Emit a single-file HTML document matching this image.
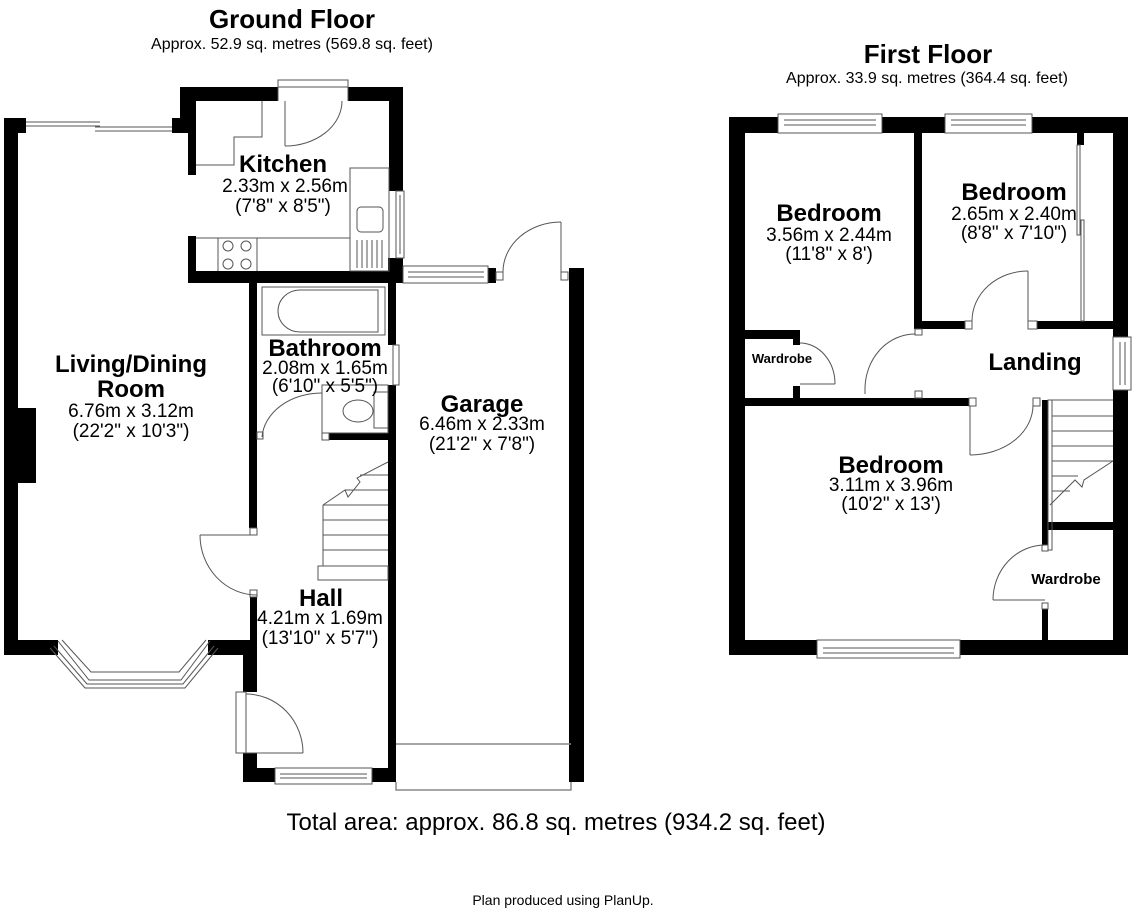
<!DOCTYPE html>
<html><head><meta charset="utf-8"><style>
html,body{margin:0;padding:0;background:#fff;width:1136px;height:914px;overflow:hidden}
svg{display:block}
text{font-family:"Liberation Sans",Arial,sans-serif;fill:#000}
.t{font-weight:bold;font-size:24px}
.d{font-size:19px}
</style></head><body>
<svg width="1136" height="914" viewBox="0 0 1136 914" xmlns="http://www.w3.org/2000/svg">
<g fill="#000">
<rect x="4" y="118" width="14" height="537"/>
<rect x="18" y="408" width="18" height="75"/>
<rect x="4" y="118" width="22" height="15"/>
<rect x="172" y="118" width="22" height="15"/>
<rect x="180" y="87" width="98" height="14"/>
<rect x="180" y="87" width="8" height="45"/>
<rect x="188" y="87" width="8" height="88"/>
<rect x="188" y="236" width="8" height="47"/>
<rect x="348" y="87" width="55" height="14"/>
<rect x="389" y="87" width="14" height="104"/>
<rect x="388" y="258" width="15" height="25"/>
<rect x="188" y="271" width="215" height="12"/>
<rect x="249" y="277" width="8" height="251"/>
<rect x="250" y="597" width="7" height="43"/>
<rect x="4" y="640" width="54" height="15"/>
<rect x="208" y="640" width="49" height="15"/>
<rect x="243" y="640" width="14" height="52"/>
<rect x="243" y="753" width="14" height="29"/>
<rect x="243" y="768" width="32" height="14"/>
<rect x="372" y="768" width="24" height="14"/>
<rect x="388" y="283" width="8" height="62"/>
<rect x="388" y="385" width="8" height="397"/>
<rect x="329" y="433" width="62" height="7"/>
<rect x="488" y="268" width="8" height="15"/>
<rect x="569" y="268" width="15" height="514"/>
<rect x="729" y="117" width="16" height="538"/>
<rect x="729" y="117" width="49" height="16"/>
<rect x="882" y="117" width="63" height="16"/>
<rect x="1032" y="117" width="96" height="16"/>
<rect x="1077" y="133" width="7" height="12"/>
<rect x="1113" y="117" width="15" height="220"/>
<rect x="1113" y="390" width="15" height="265"/>
<rect x="914" y="133" width="8" height="196"/>
<rect x="914" y="321" width="51" height="8"/>
<rect x="1037" y="321" width="91" height="8"/>
<rect x="745" y="330" width="55" height="9"/>
<rect x="793" y="339" width="7" height="6"/>
<rect x="793" y="386" width="7" height="13"/>
<rect x="745" y="398" width="224" height="8"/>
<rect x="1042" y="400" width="6" height="145"/>
<rect x="1048" y="522" width="66" height="8"/>
<rect x="1042" y="609" width="6" height="46"/>
<rect x="729" y="640" width="88" height="15"/>
<rect x="960" y="640" width="168" height="15"/>
</g>
<g fill="none" stroke="#555" stroke-width="1">
<line x1="26" y1="122" x2="100" y2="122"/><line x1="26" y1="126" x2="100" y2="126"/>
<line x1="95" y1="127" x2="172" y2="127"/><line x1="95" y1="131" x2="172" y2="131"/>
<rect x="278" y="80" width="70" height="7"/>
<line x1="278" y1="101" x2="278" y2="87"/><line x1="348" y1="101" x2="348" y2="87"/>
<line x1="285" y1="101" x2="285" y2="146"/>
<path d="M285 146 A57 45 0 0 0 342 101"/>
<polyline points="196,165 234,165 234,137 262,137 262,101"/>
<line x1="196" y1="238" x2="350" y2="238"/>
<rect x="350" y="168" width="39" height="103"/>
<rect x="357" y="207" width="26" height="25" rx="4"/>
<line x1="218" y1="238" x2="218" y2="271"/><line x1="257" y1="238" x2="257" y2="271"/>
<circle cx="228" cy="246" r="5"/><circle cx="246" cy="246" r="5"/>
<circle cx="228" cy="264" r="5"/><circle cx="246" cy="264" r="5"/>
<line x1="357" y1="240" x2="357" y2="268"/><line x1="362" y1="240" x2="362" y2="268"/><line x1="367" y1="240" x2="367" y2="268"/><line x1="372" y1="240" x2="372" y2="268"/><line x1="377" y1="240" x2="377" y2="268"/><line x1="382" y1="240" x2="382" y2="268"/>
<rect x="396" y="191" width="8" height="67"/><line x1="400" y1="195" x2="400" y2="254"/>
<rect x="403" y="266" width="85" height="17"/><line x1="408" y1="272" x2="484" y2="272"/><line x1="408" y1="277" x2="484" y2="277"/>
<rect x="496" y="272" width="7" height="8"/><rect x="561" y="272" width="7" height="8"/>
<line x1="561" y1="222" x2="561" y2="272"/>
<path d="M503 272 A58 50 0 0 1 561 222"/>
<rect x="262" y="287" width="123" height="48"/>
<path d="M300 290 L378 290 L378 332 L300 332 A22 21 0 0 1 300 290 Z"/>
<rect x="393" y="345" width="6" height="40"/>
<rect x="322" y="385" width="66" height="48"/>
<ellipse cx="358" cy="411" rx="15" ry="11"/>
<rect x="374" y="392" width="14" height="36"/>
<line x1="322" y1="393" x2="322" y2="440"/>
<path d="M262 437 A60 47 0 0 1 322 393"/>
<rect x="257" y="432" width="6" height="7"/><rect x="322" y="433" width="7" height="7"/>
<polyline points="323,505 345,490 348,497 360,482 357,478 388,462"/>
<line x1="323" y1="505" x2="323" y2="566"/>
<line x1="323" y1="505" x2="388" y2="505"/><line x1="323" y1="520" x2="388" y2="520"/><line x1="323" y1="535" x2="388" y2="535"/><line x1="323" y1="550" x2="388" y2="550"/><line x1="323" y1="566" x2="388" y2="566"/>
<rect x="318" y="566" width="70" height="14"/>
<line x1="360" y1="475" x2="388" y2="475"/><line x1="345" y1="490" x2="388" y2="490"/>
<line x1="200" y1="535" x2="250" y2="535"/>
<path d="M200 535 A57 60 0 0 0 257 595"/>
<rect x="250" y="528" width="7" height="7"/><rect x="250" y="590" width="7" height="7"/>
<polyline points="50,648 85,688 185,688 218,648"/>
<polyline points="54,646 87,684 183,684 214,646"/>
<polyline points="58,641 89,680 181,680 210,641"/>
<polyline points="62,640 91,672 179,672 206,640"/>
<rect x="236" y="692" width="10" height="61"/>
<line x1="246" y1="694" x2="246" y2="753"/>
<path d="M246 694 A57 59 0 0 1 303 753"/>
<line x1="246" y1="753" x2="303" y2="753"/>
<rect x="275" y="768" width="97" height="16"/><line x1="280" y1="774" x2="367" y2="774"/><line x1="280" y1="778" x2="367" y2="778"/>
<line x1="396" y1="744" x2="571" y2="744" stroke="#888" stroke-width="1.5"/>
<polyline points="396,782 396,790 571,790 571,782" stroke="#888" stroke-width="1.5"/>
<rect x="778" y="114" width="104" height="19"/><line x1="784" y1="120" x2="876" y2="120"/><line x1="784" y1="125" x2="876" y2="125"/>
<rect x="945" y="114" width="87" height="19"/><line x1="951" y1="120" x2="1026" y2="120"/><line x1="951" y1="125" x2="1026" y2="125"/>
<rect x="817" y="640" width="143" height="18"/><line x1="823" y1="648" x2="954" y2="648"/><line x1="823" y1="653" x2="954" y2="653"/>
<rect x="1113" y="337" width="18" height="53"/><line x1="1120" y1="342" x2="1120" y2="385"/><line x1="1125" y1="342" x2="1125" y2="385"/>
<rect x="1077" y="145" width="3" height="90"/><rect x="1081" y="220" width="3" height="101"/>
<line x1="1028" y1="271" x2="1028" y2="321"/>
<path d="M972 321 A56 50 0 0 1 1028 271"/>
<rect x="965" y="321" width="7" height="8"/><rect x="1028" y="321" width="9" height="8"/>
<path d="M915 334 A50 55 0 0 0 865 389"/>
<line x1="865" y1="389" x2="865" y2="394"/>
<rect x="915" y="329" width="7" height="6"/><rect x="915" y="391" width="7" height="7"/>
<path d="M800 343 A35 41 0 0 1 835 384"/>
<line x1="800" y1="384" x2="835" y2="384"/>
<rect x="969" y="398" width="7" height="8"/><rect x="1033" y="398" width="7" height="8"/>
<line x1="970" y1="406" x2="970" y2="455"/>
<path d="M970 455 A63 50 0 0 0 1033 404"/>
<rect x="1048" y="400" width="4" height="150"/>
<line x1="1052" y1="400" x2="1113" y2="400"/><line x1="1052" y1="416" x2="1113" y2="416"/><line x1="1052" y1="431" x2="1113" y2="431"/><line x1="1052" y1="446" x2="1113" y2="446"/><line x1="1052" y1="461" x2="1113" y2="461"/><line x1="1052" y1="476" x2="1078" y2="476"/><line x1="1052" y1="491" x2="1070" y2="491"/>
<polyline points="1050,505 1075,480 1082,487 1084,480 1113,461"/>
<path d="M1045 545 A52 55 0 0 0 993 600"/>
<line x1="993" y1="600" x2="1045" y2="600"/>
<rect x="1042" y="545" width="6" height="6"/><rect x="1042" y="603" width="6" height="6"/>
</g>
<text x="292" y="28" text-anchor="middle" font-weight="bold" font-size="26">Ground Floor</text>
<text x="292" y="49" text-anchor="middle" font-size="16">Approx. 52.9 sq. metres (569.8 sq. feet)</text>
<text x="928" y="63" text-anchor="middle" font-weight="bold" font-size="26">First Floor</text>
<text x="927" y="83" text-anchor="middle" font-size="16">Approx. 33.9 sq. metres (364.4 sq. feet)</text>

<text class="t" x="283" y="172" text-anchor="middle">Kitchen</text>
<text class="d" x="285" y="192" text-anchor="middle">2.33m x 2.56m</text>
<text class="d" x="283" y="212" text-anchor="middle">(7'8" x 8'5")</text>

<text class="t" x="131" y="372" text-anchor="middle">Living/Dining</text>
<text class="t" x="131" y="397" text-anchor="middle">Room</text>
<text class="d" x="131" y="417" text-anchor="middle">6.76m x 3.12m</text>
<text class="d" x="131" y="437" text-anchor="middle">(22'2" x 10'3")</text>

<text class="t" x="325" y="356" text-anchor="middle">Bathroom</text>
<text class="d" x="325" y="374" text-anchor="middle">2.08m x 1.65m</text>
<text class="d" x="325" y="392" text-anchor="middle">(6'10" x 5'5")</text>

<text class="t" x="482" y="412" text-anchor="middle">Garage</text>
<text class="d" x="482" y="430" text-anchor="middle">6.46m x 2.33m</text>
<text class="d" x="482" y="450" text-anchor="middle">(21'2" x 7'8")</text>

<text class="t" x="321" y="606" text-anchor="middle">Hall</text>
<text class="d" x="320" y="624" text-anchor="middle">4.21m x 1.69m</text>
<text class="d" x="320" y="644" text-anchor="middle">(13'10" x 5'7")</text>

<text class="t" x="829" y="221" text-anchor="middle">Bedroom</text>
<text class="d" x="829" y="241" text-anchor="middle">3.56m x 2.44m</text>
<text class="d" x="829" y="260" text-anchor="middle">(11'8" x 8')</text>

<text class="t" x="1014" y="200" text-anchor="middle">Bedroom</text>
<text class="d" x="1014" y="220" text-anchor="middle">2.65m x 2.40m</text>
<text class="d" x="1014" y="239" text-anchor="middle">(8'8" x 7'10")</text>

<text x="782" y="363" text-anchor="middle" font-weight="bold" font-size="13">Wardrobe</text>
<text x="1035" y="370" text-anchor="middle" font-weight="bold" font-size="24">Landing</text>

<text class="t" x="891" y="473" text-anchor="middle">Bedroom</text>
<text class="d" x="891" y="491" text-anchor="middle">3.11m x 3.96m</text>
<text class="d" x="891" y="510" text-anchor="middle">(10'2" x 13')</text>

<text x="1066" y="584" text-anchor="middle" font-weight="bold" font-size="15">Wardrobe</text>

<text x="556" y="830" text-anchor="middle" font-size="24">Total area: approx. 86.8 sq. metres (934.2 sq. feet)</text>
<text x="563" y="905" text-anchor="middle" font-size="14">Plan produced using PlanUp.</text>
</svg>
</body></html>
